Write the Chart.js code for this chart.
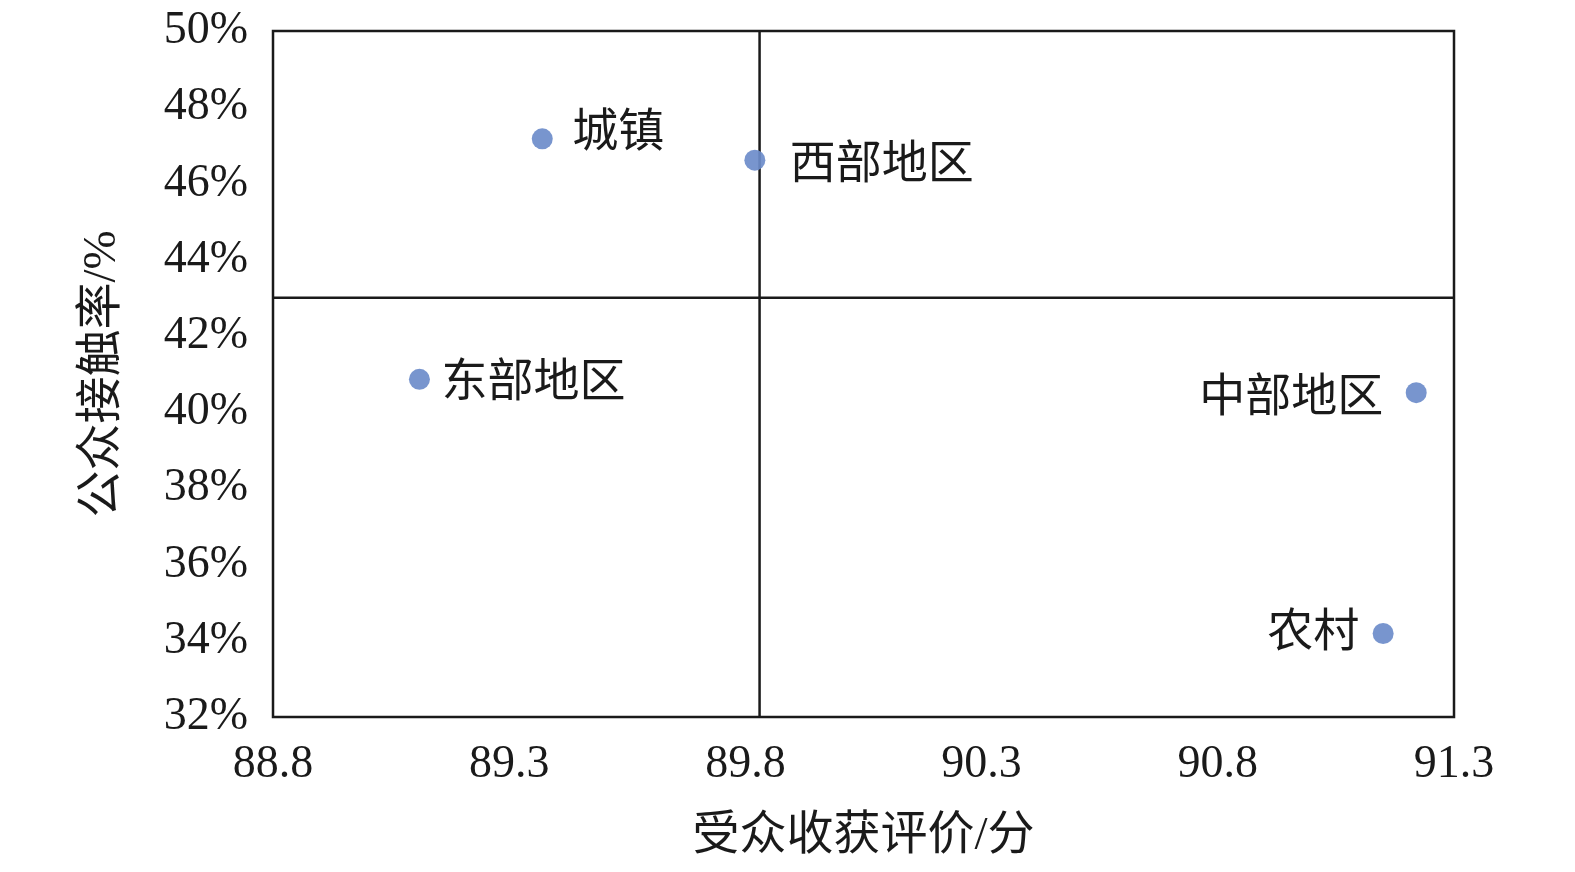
<!DOCTYPE html>
<html>
<head>
<meta charset="utf-8">
<script src="https://cdn.jsdelivr.net/npm/chart.js@4/dist/chart.umd.min.js"></script>
<style>
  html, body { margin: 0; padding: 0; background: #ffffff; }
  #wrap { width: 1575px; height: 872px; }
</style>
</head>
<body>
<div id="wrap"><canvas id="c" width="1575" height="872"></canvas></div>
<script>
// ---- data ----
const categories = ['城镇', '西部地区', '东部地区', '中部地区', '农村'];
const gainScores = [89.37, 89.82, 89.11, 91.22, 91.15];      // 受众收获评价/分
const contactRates = [47.17, 46.61, 40.86, 40.51, 34.19];    // 公众接触率/%
const xTickValues = [88.8, 89.3, 89.8, 90.3, 90.8, 91.3];
const yTickValues = [32, 34, 36, 38, 40, 42, 44, 46, 48, 50];
const xDivider = [89.83];   // vertical quadrant line
const yDivider = [43];      // horizontal quadrant line
const xTitle = '受众收获评价/分';
const yTitle = '公众接触率/%';

// ---- label styling (side and offset relative to the point) ----
const labelSide = ['right', 'right', 'right', 'left', 'left'];
const labelDx = [30, 35, 22, 33, 24];
const labelDy = [-10, 0, -1, 1, -5];

const xMin = xTickValues[0], xMax = xTickValues[xTickValues.length - 1];
const yMin = yTickValues[0], yMax = yTickValues[yTickValues.length - 1];

const pointData = categories.map((c, i) => ({ x: gainScores[i], y: contactRates[i] }));

const serif = '"Liberation Serif", "Times New Roman", "Noto Serif CJK SC", "Noto Sans CJK SC", serif';
const cjk = '"Liberation Serif", "Noto Sans CJK SC", serif';

const boxPlugin = {
  id: 'box',
  afterDatasetsDraw(chart) {
    const { ctx, chartArea: a } = chart;
    ctx.save();
    ctx.strokeStyle = '#1a1a1a';
    ctx.lineWidth = 2.5;
    ctx.strokeRect(a.left, a.top, a.right - a.left, a.bottom - a.top);
    ctx.restore();
  }
};

const labelPlugin = {
  id: 'labels',
  afterDatasetsDraw(chart) {
    const { ctx } = chart;
    const meta = chart.getDatasetMeta(0);
    ctx.save();
    ctx.font = '400 46px "Noto Sans CJK SC", sans-serif';
    ctx.fillStyle = '#1a1a1a';
    ctx.textBaseline = 'middle';
    meta.data.forEach((el, i) => {
      const side = labelSide[i];
      ctx.textAlign = side === 'right' ? 'left' : 'right';
      const x = side === 'right' ? el.x + labelDx[i] : el.x - labelDx[i];
      ctx.fillText(categories[i], x, el.y + labelDy[i]);
    });
    ctx.restore();
  }
};

new Chart(document.getElementById('c'), {
  type: 'scatter',
  data: {
    datasets: [
      {
        label: 'points',
        data: pointData,
        backgroundColor: 'rgba(108,140,202,0.92)',
        borderWidth: 0,
        pointRadius: 10.5,
        pointHoverRadius: 10.5
      },
      {
        label: 'vline',
        type: 'line',
        data: [{ x: xDivider[0], y: yMin }, { x: xDivider[0], y: yMax }],
        borderColor: '#1a1a1a',
        borderWidth: 2.5,
        pointRadius: 0,
        fill: false
      },
      {
        label: 'hline',
        type: 'line',
        data: [{ x: xMin, y: yDivider[0] }, { x: xMax, y: yDivider[0] }],
        borderColor: '#1a1a1a',
        borderWidth: 2.5,
        pointRadius: 0,
        fill: false
      }
    ]
  },
  options: {
    responsive: false,
    animation: false,
    events: [],
    layout: { padding: { left: 0, top: 31, right: 121, bottom: 0 } },
    plugins: { legend: { display: false }, tooltip: { enabled: false } },
    scales: {
      x: {
        type: 'linear',
        min: xMin,
        max: xMax,
        grid: { display: false, drawTicks: false, tickLength: 0 },
        border: { display: false },
        afterBuildTicks(scale) { scale.ticks = xTickValues.map(v => ({ value: v })); },
        afterFit(scale) { scale.height = 155; scale.paddingLeft = 0; scale.paddingRight = 0; },
        ticks: {
          padding: 20,
          color: '#1a1a1a',
          font: { family: serif, size: 46 },
          callback: v => Number(v).toFixed(1),
          maxRotation: 0,
          autoSkip: false
        },
        title: {
          display: true,
          text: xTitle,
          color: '#1a1a1a',
          font: { family: cjk, size: 47 },
          padding: { top: 0, bottom: 7 }
        }
      },
      y: {
        type: 'linear',
        min: yMin,
        max: yMax,
        grid: { display: false, drawTicks: false, tickLength: 0 },
        border: { display: false },
        afterBuildTicks(scale) { scale.ticks = yTickValues.map(v => ({ value: v })); },
        afterFit(scale) { scale.width = 273; scale.paddingTop = 0; scale.paddingBottom = 0; },
        ticks: {
          padding: 25,
          color: '#1a1a1a',
          font: { family: serif, size: 46 },
          callback: v => v + '%',
          autoSkip: false
        },
        title: {
          display: true,
          text: yTitle,
          color: '#1a1a1a',
          font: { family: cjk, size: 47 },
          padding: { top: 74, bottom: 0 }
        }
      }
    }
  },
  plugins: [boxPlugin, labelPlugin]
});
</script>
</body>
</html>
